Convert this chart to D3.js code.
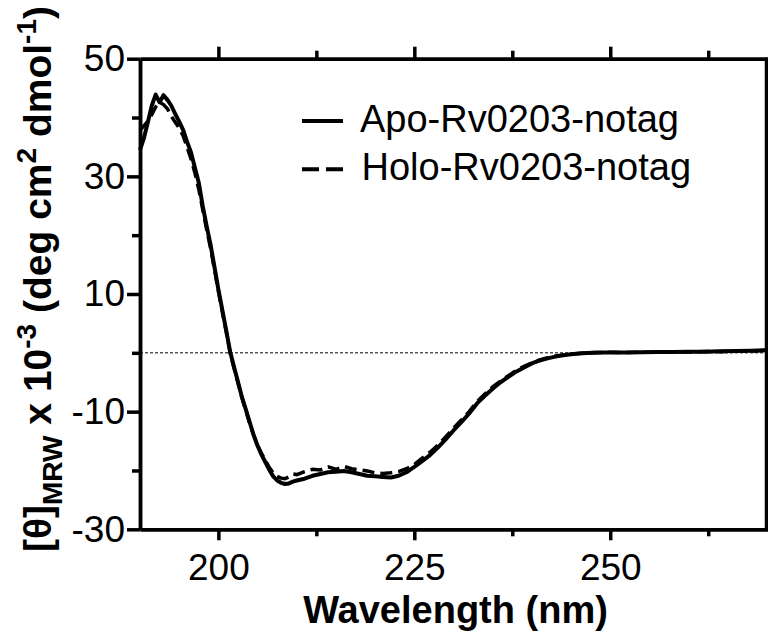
<!DOCTYPE html>
<html>
<head>
<meta charset="utf-8">
<script src="https://cdn.jsdelivr.net/npm/d3@7"></script>
<style>
  body { margin: 0; background: #fff; }
  svg text { font-family: "Liberation Sans", Arial, Helvetica, sans-serif; fill: #000; }
</style>
</head>
<body>
<div id="chart"></div>
<script>
// wavelengths (nm) shared by both spectra
const wavelength = [190, 190.5, 191, 191.5, 192, 192.5, 193, 193.5, 194, 194.5, 195, 195.5, 196, 196.5, 197, 197.5,
  198, 198.5, 199, 199.5, 200, 200.5, 201, 201.5, 202, 202.5, 203, 203.5, 204, 204.5, 205, 205.5, 206, 206.5,
  207, 207.5, 208, 208.5, 209, 209.5, 210, 211, 212, 213, 214, 215, 216, 217, 218, 219, 220, 221, 222, 223,
  224, 225, 226, 227, 228, 229, 230, 231, 232, 233, 234, 235, 236, 237, 238, 239, 240, 241, 242, 243, 244,
  245, 246, 247, 248, 249, 250, 252, 254, 256, 258, 260, 262, 264, 266, 268, 270];

// [θ]MRW x 10^-3
const apo = [34.5, 36.5, 39.2, 42.0, 43.9, 42.6, 43.8, 43.0, 42.0, 40.6, 39.3, 37.9, 35.9, 34.1, 31.5, 28.9,
  25.0, 21.6, 18.4, 14.6, 10.8, 7.3, 3.8, 0.2, -2.4, -4.9, -7.5, -9.6, -11.8, -14.0, -15.8, -17.3, -18.6, -19.9,
  -21.0, -21.7, -22.1, -22.3, -22.2, -21.9, -21.7, -21.4, -20.9, -20.6, -20.3, -20.2, -20.1, -20.3, -20.6, -20.9, -21.0, -21.1, -21.2, -20.9,
  -20.3, -19.4, -18.4, -17.4, -16.1, -14.7, -13.2, -11.8, -10.3, -8.6, -7.3, -6.1, -5.0, -4.1, -3.2, -2.5, -1.8, -1.3, -0.95, -0.65, -0.4,
  -0.25, -0.12, -0.05, 0.0, 0.05, 0.05, 0.07, 0.1, 0.12, 0.15, 0.18, 0.2, 0.25, 0.3, 0.35, 0.45];

const holo = [37.8, 38.6, 39.4, 40.5, 41.8, 42.6, 42.2, 41.5, 40.2, 39.2, 38.2, 36.9, 35.0, 33.0, 30.6, 27.8,
  24.4, 21.0, 17.8, 14.2, 10.5, 7.0, 3.6, 0.0, -2.6, -5.1, -7.6, -9.8, -12.0, -14.0, -15.7, -17.1, -18.3, -19.5,
  -20.4, -21.0, -21.3, -21.4, -21.1, -20.6, -20.7, -20.2, -19.8, -19.9, -19.4, -19.8, -19.3, -19.7, -19.9, -20.1, -20.4, -20.5, -20.4, -20.2,
  -19.7, -19.0, -17.9, -16.9, -15.7, -14.3, -12.8, -11.4, -10.0, -8.3, -7.0, -5.8, -4.8, -3.9, -3.0, -2.3, -1.7, -1.2, -0.85, -0.55, -0.35,
  -0.2, -0.1, 0.0, 0.05, 0.05, 0.1, 0.05, 0.12, 0.1, 0.18, 0.15, 0.22, 0.2, 0.3, 0.3, 0.4];

const seriesNames = ["Apo-Rv0203-notag", "Holo-Rv0203-notag"];
const yMajor = [-30, -10, 10, 30, 50];
const yMinor = [-20, 0, 20, 40];
const xMajor = [200, 225, 250];
const xMinor = [212.5, 237.5, 262.5];

const width = 768, height = 637;
const plotL = 140, plotR = 767, plotT = 58.7, plotB = 529.3;
const axisW = 3.5;

const svg = d3.select("#chart").append("svg")
    .attr("width", width)
    .attr("height", height);

const x = d3.scaleLinear().domain([190, 270]).range([plotL, plotR]);
const y = d3.scaleLinear().domain([-30, 50]).range([plotB, plotT]);

// zero reference line
svg.append("line")
    .attr("x1", x(190)).attr("x2", x(270))
    .attr("y1", y(0)).attr("y2", y(0))
    .attr("stroke", "#000")
    .attr("stroke-width", 1)
    .attr("stroke-dasharray", "3,2");

// spectra
const pts = (vals) => wavelength.map((w, i) => [w, vals[i]]);
const line = d3.line().x(d => x(d[0])).y(d => y(d[1]));

svg.append("path")
    .attr("d", line(pts(apo)))
    .attr("fill", "none")
    .attr("stroke", "#000")
    .attr("stroke-width", 4)
    .attr("stroke-linejoin", "round");

svg.append("path")
    .attr("d", line(pts(holo)))
    .attr("fill", "none")
    .attr("stroke", "#000")
    .attr("stroke-width", 3.5)
    .attr("stroke-dasharray", "12,6");

// axes
function styleAxis(g) {
  g.select(".domain").attr("stroke-width", axisW);
  g.selectAll(".tick line").attr("stroke-width", axisW);
  g.selectAll(".tick text")
    .style("font-family", "'Liberation Sans', Arial, Helvetica, sans-serif")
    .attr("font-size", 37);
}
const plain = d => String(d);

// left
svg.append("g").attr("transform", `translate(${plotL},0)`)
    .call(d3.axisLeft(y).tickValues(yMajor).tickSize(13).tickSizeOuter(0).tickPadding(2).tickFormat(plain))
    .call(styleAxis);
svg.append("g").attr("transform", `translate(${plotL},0)`)
    .call(d3.axisLeft(y).tickValues(yMinor).tickSize(8).tickSizeOuter(0).tickFormat(""))
    .call(styleAxis);

// bottom
svg.append("g").attr("transform", `translate(0,${plotB})`)
    .call(d3.axisBottom(x).tickValues(xMajor).tickSize(11).tickSizeOuter(0).tickPadding(13).tickFormat(plain))
    .call(styleAxis);
svg.append("g").attr("transform", `translate(0,${plotB})`)
    .call(d3.axisBottom(x).tickValues(xMinor).tickSize(7).tickSizeOuter(0).tickFormat(""))
    .call(styleAxis);

// top mirror
svg.append("g").attr("transform", `translate(0,${plotT})`)
    .call(d3.axisTop(x).tickValues(xMajor).tickSize(12).tickSizeOuter(0).tickFormat(""))
    .call(styleAxis);
svg.append("g").attr("transform", `translate(0,${plotT})`)
    .call(d3.axisTop(x).tickValues(xMinor).tickSize(8).tickSizeOuter(0).tickFormat(""))
    .call(styleAxis);

// right mirror
svg.append("g").attr("transform", `translate(${plotR - 1},0)`)
    .call(d3.axisRight(y).tickValues(yMajor).tickSize(13).tickSizeOuter(0).tickFormat(""))
    .call(styleAxis);

// axis titles
svg.append("text")
    .attr("x", 455.5).attr("y", 623)
    .attr("text-anchor", "middle")
    .attr("font-size", 38)
    .attr("font-weight", "bold")
    .text("Wavelength (nm)");

const yt = svg.append("text")
    .attr("transform", "translate(51,279) rotate(-90)")
    .attr("text-anchor", "middle")
    .attr("font-size", 39)
    .attr("font-weight", "bold");
yt.append("tspan").text("[θ]");
yt.append("tspan").attr("font-size", 28).attr("dy", 11).text("MRW");
yt.append("tspan").attr("dy", -11).text(" x 10");
yt.append("tspan").attr("font-size", 28).attr("dy", -15).text("-3");
yt.append("tspan").attr("dy", 15).text(" (deg cm");
yt.append("tspan").attr("font-size", 28).attr("dy", -15).text("2");
yt.append("tspan").attr("dy", 15).text(" dmol");
yt.append("tspan").attr("font-size", 28).attr("dy", -15).text("-1");
yt.append("tspan").attr("dy", 15).text(")");

// legend
const legend = svg.append("g");
seriesNames.forEach((name, i) => {
  const ly = 121 + i * 48.3;
  legend.append("line")
      .attr("x1", 302).attr("x2", 343)
      .attr("y1", ly).attr("y2", ly)
      .attr("stroke", "#000")
      .attr("stroke-width", 4)
      .attr("stroke-dasharray", i === 1 ? "17,7" : null);
  legend.append("text")
      .attr("x", 360 + i * 1.5).attr("y", ly + 11)
      .attr("font-size", 38)
      .text(name);
});
</script>
</body>
</html>
